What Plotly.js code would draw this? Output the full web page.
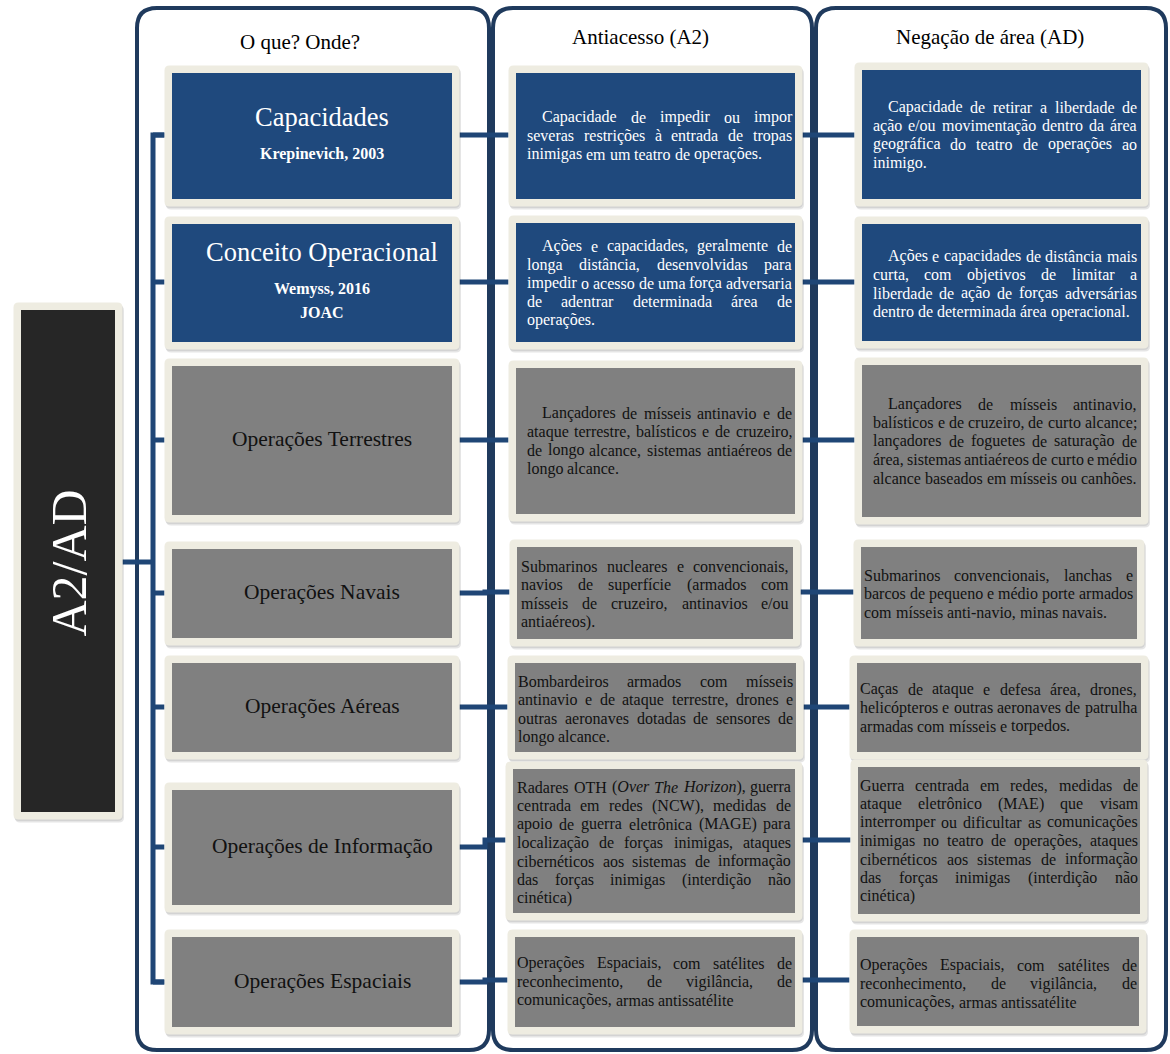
<!DOCTYPE html>
<html><head><meta charset="utf-8">
<script src="https://cdn.plot.ly/plotly-3.0.1.min.js"></script>
<style>html,body{margin:0;padding:0;background:#fff}#chart{width:1170px;height:1054px}</style>
</head><body><div id="chart"></div>
<script>
// ---------------- DATA ----------------
const rootLabel = "A2/AD";
const headers = ["O que? Onde?", "Antiacesso (A2)", "Negação de área (AD)"];
const rowLabels = ["Capacidades", "Conceito Operacional", "Operações Terrestres", "Operações Navais",
  "Operações Aéreas", "Operações de Informação", "Operações Espaciais"];
const rowSources = [["Krepinevich, 2003"], ["Wemyss, 2016", "JOAC"], [], [], [], [], []];
const rowKinds = ["definition", "definition", "domain", "domain", "domain", "domain", "domain"];
const a2Text = [
  ["Capacidade de impedir ou impor", "severas restrições à entrada de tropas", "inimigas em um teatro de operações."],
  ["Ações e capacidades, geralmente de", "longa distância, desenvolvidas para", "impedir o acesso de uma força adversaria", "de adentrar determinada área de", "operações."],
  ["Lançadores de mísseis antinavio e de", "ataque terrestre, balísticos e de cruzeiro,", "de longo alcance, sistemas antiaéreos de", "longo alcance."],
  ["Submarinos nucleares e convencionais,", "navios de superfície (armados com", "mísseis de cruzeiro, antinavios e/ou", "antiaéreos)."],
  ["Bombardeiros armados com mísseis", "antinavio e de ataque terrestre, drones e", "outras aeronaves dotadas de sensores de", "longo alcance."],
  ["Radares OTH (<i>Over</i> <i>The</i> <i>Horizon</i>), guerra", "centrada em redes (NCW), medidas de", "apoio de guerra eletrônica (MAGE) para", "localização de forças inimigas, ataques", "cibernéticos aos sistemas de informação", "das forças inimigas (interdição não", "cinética)"],
  ["Operações Espaciais, com satélites de", "reconhecimento, de vigilância, de", "comunicações, armas antissatélite"]
];
const adText = [
  ["Capacidade de retirar a liberdade de", "ação e/ou movimentação dentro da área", "geográfica do teatro de operações ao", "inimigo."],
  ["Ações e capacidades de distância mais", "curta, com objetivos de limitar a", "liberdade de ação de forças adversárias", "dentro de determinada área operacional."],
  ["Lançadores de mísseis antinavio,", "balísticos e de cruzeiro, de curto alcance;", "lançadores de foguetes de saturação de", "área, sistemas antiaéreos de curto e médio", "alcance baseados em mísseis ou canhões."],
  ["Submarinos convencionais, lanchas e", "barcos de pequeno e médio porte armados", "com mísseis anti-navio, minas navais."],
  ["Caças de ataque e defesa área, drones,", "helicópteros e outras aeronaves de patrulha", "armadas com mísseis e torpedos."],
  ["Guerra centrada em redes, medidas de", "ataque eletrônico (MAE) que visam", "interromper ou dificultar as comunicações", "inimigas no teatro de operações, ataques", "cibernéticos aos sistemas de informação", "das forças inimigas (interdição não", "cinética)"],
  ["Operações Espaciais, com satélites de", "reconhecimento, de vigilância, de", "comunicações, armas antissatélite"]
];

// ---------------- LAYOUT GEOMETRY (pixels) ----------------
const W = 1170, H = 1054;
const panelX = [[137, 489], [493, 812], [816, 1166]];
const panelY = [8, 1050];
const headerPos = [[300, 42], [640, 37], [990, 37]];
const rootBox = [21, 310, 115, 812];
const col1Box = [[172,73,452,199],[172,224,452,342],[172,366,452,515],[172,549,452,638],[172,663,452,752],[172,790,452,905],[172,937,452,1027]];
const col2Box = [[516,73,795,199],[516,223,795,342],[516,368,795,514],[517,547,793,639],[515,663,796,752],[513,769,795,913],[515,937,795,1027]];
const col3Box = [[862,70,1141,199],[862,224,1141,341],[862,365,1141,517],[861,547,1137,639],[857,663,1141,752],[858,767,1140,914],[857,937,1139,1026]];
const col1LabelX = 322;
const col2TextX = [[527,792],[527,792],[527,792],[521,789],[518,793],[517,791],[517,792]];
const col3TextX = [[873,1137],[873,1137],[873,1137],[864,1133],[860,1137],[860,1138],[860,1137]];
const col2TextY = [117, 246, 413, 566, 681, 787, 963];
const col3TextY = [107, 256, 404, 575, 689, 785, 965];
const indentRows = [0, 1, 2];
const leftLinkY = [135, 282, 440, 593, 707, 847, 982];
const rightLinkY = [135, 282, 440, 592, 707, 840, 980];
const spineX = 153;

// ---------------- STYLES ----------------
const FONT = '"Liberation Serif", "Times New Roman", serif';
const BLUE = '#1F497D', GRAY = '#808080', FRAME = '#EEECE1', DARK = '#262626';
const PANEL = '#1F3A5D', LINK = '#1F4676';
const FS = 16, LH = 18.5, PAD = 7.5;

const shapes = [], annotations = [];

function rr(x0, y0, x1, y1, r) {
  return `M${x0+r},${y0} L${x1-r},${y0} Q${x1},${y0} ${x1},${y0+r} L${x1},${y1-r} Q${x1},${y1} ${x1-r},${y1} ` +
         `L${x0+r},${y1} Q${x0},${y1} ${x0},${y1-r} L${x0},${y0+r} Q${x0},${y0} ${x0+r},${y0} Z`;
}
function line(x0, y0, x1, y1, color, w) {
  shapes.push({type:'line', xref:'x', yref:'y', x0, y0, x1, y1, line:{color, width:w}});
}
function pathLine(d, color, w) {
  shapes.push({type:'path', xref:'x', yref:'y', path:d, line:{color, width:w}, fillcolor:'rgba(0,0,0,0)'});
}
function box(b, fill) {
  const [x0, y0, x1, y1] = b;
  shapes.push({type:'path', xref:'x', yref:'y', path: rr(x0-PAD+1.5, y0-PAD+3, x1+PAD+1.5, y1+PAD+3, 5),
    fillcolor:'rgba(0,0,0,0.10)', line:{width:0}});
  shapes.push({type:'path', xref:'x', yref:'y', path: rr(x0-PAD+0.5, y0-PAD+1.5, x1+PAD+0.5, y1+PAD+1.5, 5),
    fillcolor:'rgba(0,0,0,0.08)', line:{width:0}});
  shapes.push({type:'path', xref:'x', yref:'y', path: rr(x0-PAD, y0-PAD, x1+PAD, y1+PAD, 5),
    fillcolor:FRAME, line:{width:0}});
  shapes.push({type:'rect', xref:'x', yref:'y', x0, y0, x1, y1, fillcolor:fill, line:{width:0}});
}
function text(x, y, t, size, color, opts) {
  annotations.push(Object.assign({x, y, xref:'x', yref:'y', text:t, showarrow:false,
    xanchor:'center', yanchor:'middle', borderpad:0, borderwidth:0,
    font:{family:FONT, size, color}}, opts || {}));
}

// measuring for justified paragraphs
const ctx = document.createElement('canvas').getContext('2d');
function wordWidth(w, size) {
  let italic = false, total = 0;
  for (const p of w.split(/(<\/?i>)/)) {
    if (p === '<i>') { italic = true; continue; }
    if (p === '</i>') { italic = false; continue; }
    if (!p) continue;
    ctx.font = (italic ? 'italic ' : '') + size + 'px "Liberation Serif"';
    total += ctx.measureText(p).width;
  }
  return total;
}
function paragraph(lines, xr, y0, indent, color) {
  const spaceW = wordWidth(' ', FS);
  lines.forEach((ln, i) => {
    const words = ln.split(' ');
    const ws = words.map(w => wordWidth(w, FS));
    const start = xr[0] + (i === 0 ? indent : 0);
    const sum = ws.reduce((a, b) => a + b, 0);
    const last = i === lines.length - 1;
    const gap = (!last && words.length > 1) ? (xr[1] - start - sum) / (words.length - 1) : spaceW;
    let x = start;
    words.forEach((w, k) => {
      text(x, y0 + i * LH, w, FS, color, {xanchor:'left'});
      x += ws[k] + gap;
    });
  });
}

// panels
panelX.forEach(([a, b]) => pathLine(rr(a, panelY[0], b, panelY[1], 20), PANEL, 4));

// connectors
line(115 + PAD, 562, spineX, 562, LINK, 5);
pathLine(`M${172-PAD},${leftLinkY[0]} L${spineX},${leftLinkY[0]} L${spineX},${leftLinkY[6]} L${172-PAD},${leftLinkY[6]}`, LINK, 5);
leftLinkY.forEach(y => line(spineX, y, 172 - PAD, y, LINK, 5));
leftLinkY.forEach((y, i) => {
  const y2 = rightLinkY[i];
  if (y === y2) line(452 + PAD, y, col2Box[i][0] - PAD, y, LINK, 5);
  else pathLine(`M${452+PAD},${y} L485,${y} L485,${y2} L${col2Box[i][0]-PAD},${y2}`, LINK, 5);
  line(col2Box[i][2] + PAD, y2, col3Box[i][0] - PAD, y2, LINK, 5);
});

// boxes
box(rootBox, DARK);
rowKinds.forEach((k, i) => {
  const fill = k === 'definition' ? BLUE : GRAY;
  box(col1Box[i], fill); box(col2Box[i], fill); box(col3Box[i], fill);
});

// headers
headers.forEach((h, i) => text(headerPos[i][0], headerPos[i][1], h, 21, '#000'));

// root label
text((rootBox[0] + rootBox[2]) / 2 + 0.5, 563, rootLabel, 50, '#FFFFFF', {textangle:-90});

// column 1 labels
rowLabels.forEach((lab, i) => {
  const b = col1Box[i];
  const cx = col1LabelX;
  if (rowKinds[i] === 'definition') {
    const srcs = rowSources[i];
    const ty = i === 0 ? 117 : 252;
    text(cx, ty, lab, 26.5, '#FFFFFF');
    srcs.forEach((s, k) => text(cx, ty + 37 + k * 23, '<b>' + s + '</b>', 16, '#FFFFFF'));
  } else {
    text(cx, (b[1] + b[3]) / 2 - 1.5, lab, 21.5, '#111111');
  }
});

// paragraphs
rowKinds.forEach((k, i) => {
  const col = k === 'definition' ? '#FFFFFF' : '#111111';
  const ind = indentRows.includes(i) ? 15 : 0;
  paragraph(a2Text[i], col2TextX[i], col2TextY[i], ind, col);
  paragraph(adText[i], col3TextX[i], col3TextY[i], ind, col);
});

const layout = {
  width: W, height: H, margin:{l:0, r:0, t:0, b:0},
  paper_bgcolor:'#FFFFFF', plot_bgcolor:'#FFFFFF', showlegend:false,
  xaxis:{range:[0, W], visible:false, fixedrange:true},
  yaxis:{range:[H, 0], visible:false, fixedrange:true},
  shapes, annotations
};
Plotly.newPlot('chart', [{type:'scatter', x:[0], y:[0], mode:'markers', marker:{opacity:0}, hoverinfo:'skip'}],
  layout, {staticPlot:true, displayModeBar:false});
</script></body></html>
